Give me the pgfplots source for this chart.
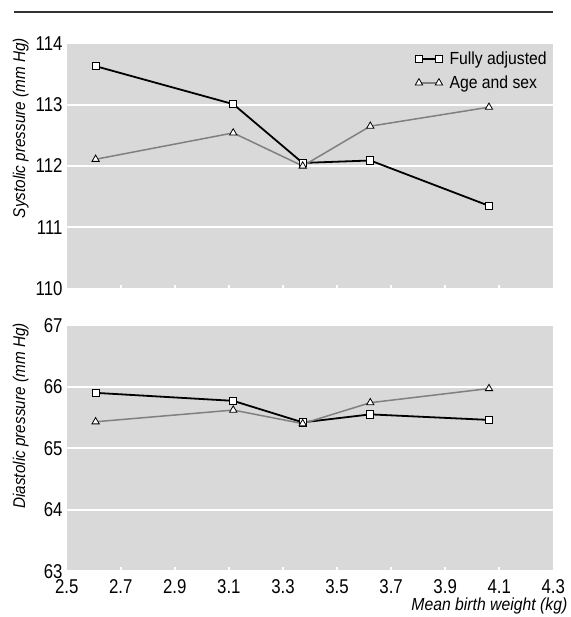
\documentclass[border=0pt]{standalone}
\usepackage{pgfplots}
\pgfplotsset{compat=1.18}
\usepackage{fontspec}
\setmainfont{Liberation Sans}[FakeStretch=0.9]
\newfontfamily\tickfam{Liberation Sans}[FakeStretch=0.84]
\newcommand\tickfont{\tickfam\fontsize{20bp}{23bp}\selectfont}
\newcommand\legfont{\fontsize{17.5bp}{21bp}\selectfont}
\newcommand\labfont{\fontsize{17bp}{20bp}\selectfont\itshape}
\newcommand\xlabfont{\fontsize{17.5bp}{20bp}\selectfont\itshape}
\definecolor{bg}{RGB}{217,217,217}
\definecolor{agegrey}{RGB}{128,128,128}
\pgfplotsset{
  panel/.style={
    scale only axis,
    width=486.6bp,
    xmin=2.5, xmax=4.3,
    axis background/.style={fill=bg},
    axis line style={draw=none},
    ymajorgrids,
    grid style={white, line width=1.8bp},
    xtick={2.5,2.7,2.9,3.1,3.3,3.5,3.7,3.9,4.1,4.3},
    tick align=inside,
    xtick pos=bottom,
    major tick length=4bp,
    xtick style={white, line width=1.5bp},
    ytick style={draw=none},
    /pgf/number format/assume math mode=true,
    tick label style={font=\tickfont},
    yticklabel style={inner sep=0pt, xshift=-4bp},
    xticklabel style={inner sep=0pt, anchor=north, yshift=-8bp,
      /pgf/number format/.cd, fixed, fixed zerofill, precision=1},
    every axis y label/.style={rotate=90, anchor=base, font=\labfont},
    legend image code/.code={\draw[mark repeat=1,mark phase=1,#1] plot coordinates {(0bp,0bp) (20bp,0bp)};},
  },
  fully/.style={black, line width=1.8bp, mark=square*, mark size=3.6bp,
    mark options={fill=white, draw=black, line width=0.8bp, solid}},
  agesex/.style={agegrey, line width=1.5bp, mark=triangle*, mark size=4.2bp,
    mark options={fill=white, draw=black, line width=0.8bp, solid}},
}
\pgfplotstableread{
x      full    age
2.607  113.63  112.11
3.116  113.01  112.54
3.373  112.05  112.00
3.623  112.09  112.65
4.062  111.35  112.96
}\systolic
\pgfplotstableread{
x      full    age
2.607  65.90   65.43
3.116  65.77   65.62
3.373  65.42   65.40
3.623  65.55   65.74
4.062  65.46   65.97
}\diastolic
\begin{document}
\begin{tikzpicture}
\path[use as bounding box] (0,0) rectangle (571bp,-617bp);
\draw[black!80, line width=2bp] (14bp,-11.7bp) -- (553.3bp,-11.7bp);
\begin{axis}[panel,
  at={(66.7bp,-43.5bp)}, anchor=north west,
  height=245bp,
  ymin=110, ymax=114, ytick={110,111,112,113,114},
  xticklabels={},
  ylabel={Systolic pressure (mm Hg)},
  ylabel style={at={(axis description cs:-0.0857,0.655)}},
  legend style={at={(axis description cs:0.716,0.968)}, anchor=north west,
    draw=none, fill=none, inner sep=0pt, row sep=10bp,
    nodes={inner sep=0pt}, font=\legfont,
    /tikz/every odd column/.append style={column sep=7bp}},
  legend cell align=left,
]
\addplot[fully] table[x=x, y=full] {\systolic};
\addlegendentry{Fully adjusted}
\addplot[agesex] table[x=x, y=age] {\systolic};
\addlegendentry{Age and sex}
\end{axis}
\begin{axis}[panel,
  at={(66.7bp,-325.2bp)}, anchor=north west,
  height=246bp,
  ymin=63, ymax=67, ytick={63,64,65,66,67},
  ylabel={Diastolic pressure (mm Hg)},
  ylabel style={at={(axis description cs:-0.0857,0.631)}},
  xlabel={Mean birth weight (kg)},
  xlabel style={at={(axis description cs:1.036,0)}, anchor=base east, yshift=-38.8bp, font=\xlabfont},
]
\addplot[fully] table[x=x, y=full] {\diastolic};
\addplot[agesex] table[x=x, y=age] {\diastolic};
\end{axis}
\end{tikzpicture}
\end{document}
